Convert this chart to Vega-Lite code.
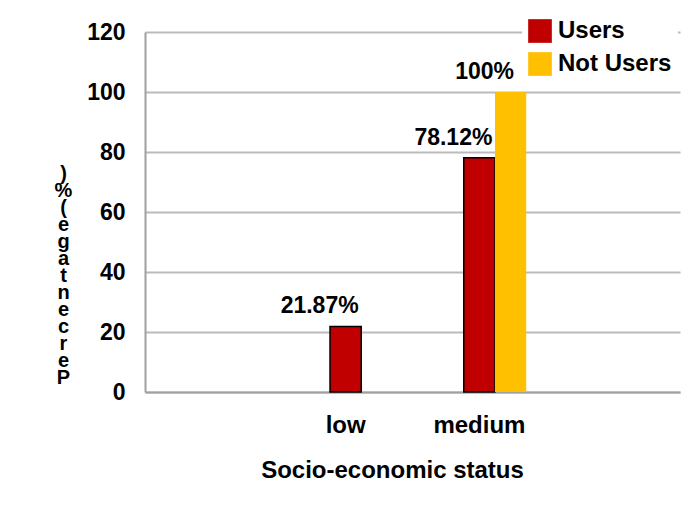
{
  "$schema": "https://vega.github.io/schema/vega-lite/v6.json",
  "width": 535,
  "height": 360,
  "autosize": "none",
  "padding": {"left": 145, "top": 32, "right": 8, "bottom": 116},
  "background": "white",
  "data": {
    "values": [
      {"status": "low", "series": "Users", "value": 21.87, "label": "21.87%"},
      {"status": "medium", "series": "Users", "value": 78.12, "label": "78.12%"},
      {"status": "medium", "series": "Not Users", "value": 100, "label": "100%"}
    ]
  },
  "encoding": {
    "x": {
      "field": "status",
      "type": "nominal",
      "sort": null,
      "scale": {"domain": ["", "low", "medium", " "], "paddingInner": 0.3, "paddingOuter": 0.15},
      "axis": {
        "title": "Socio-economic status",
        "labelAngle": 0,
        "labelFontSize": 24,
        "labelFontWeight": "bold",
        "labelColor": "black",
        "labelPadding": 21,
        "labelBaseline": "top",
        "ticks": false,
        "tickSize": 0,
        "domainColor": "#A0A0A0",
        "domainWidth": 2,
        "titleFontSize": 24,
        "titleFontWeight": "bold",
        "titleColor": "black",
        "titleX": 247,
        "titleY": 78,
        "titleAlign": "center",
        "titleBaseline": "middle"
      }
    },
    "xOffset": {
      "field": "series",
      "type": "nominal",
      "scale": {"domain": ["", "Users", "Not Users"], "paddingInner": 0, "paddingOuter": 0}
    },
    "y": {
      "field": "value",
      "type": "quantitative",
      "scale": {"domain": [0, 120], "nice": false},
      "axis": {
        "values": [0, 20, 40, 60, 80, 100, 120],
        "title": [")", "%", "(", "e", "g", "a", "t", "n", "e", "c", "r", "e", "P"],
        "titleAngle": 0,
        "titleFontSize": 20,
        "titleFontWeight": "bold",
        "titleColor": "black",
        "titleLineHeight": 17,
        "titleX": -82,
        "titleY": 131,
        "titleAlign": "center",
        "titleBaseline": "top",
        "labelFontSize": 23,
        "labelFontWeight": "bold",
        "labelColor": "black",
        "labelPadding": 20,
        "ticks": false,
        "tickSize": 0,
        "domainColor": "#A0A0A0",
        "domainWidth": 2,
        "grid": true,
        "gridColor": "#BBBBBB",
        "gridWidth": 2
      }
    }
  },
  "layer": [
    {
      "mark": {"type": "bar", "strokeWidth": 1.5},
      "encoding": {
        "color": {
          "field": "series",
          "type": "nominal",
          "scale": {"domain": ["Users", "Not Users"], "range": ["#C00000", "#FFC000"]},
          "legend": {
            "title": null,
            "orient": "none",
            "legendX": 377,
            "legendY": -19,
            "padding": 6,
            "fillColor": "white",
            "symbolType": "square",
            "symbolSize": 560,
            "symbolStrokeWidth": 0,
            "labelFontSize": 24,
            "labelFontWeight": "bold",
            "labelColor": "black",
            "labelOffset": 6,
            "rowPadding": 9
          }
        },
        "stroke": {
          "condition": {"test": "datum.series == 'Users'", "value": "black"},
          "value": "transparent"
        }
      }
    },
    {
      "mark": {"type": "text", "baseline": "bottom", "align": "center", "dx": -26, "dy": -8, "fontSize": 23, "fontWeight": "bold", "color": "black"},
      "encoding": {
        "text": {"field": "label"}
      }
    }
  ],
  "config": {
    "font": "Liberation Sans",
    "view": {"stroke": null}
  }
}
